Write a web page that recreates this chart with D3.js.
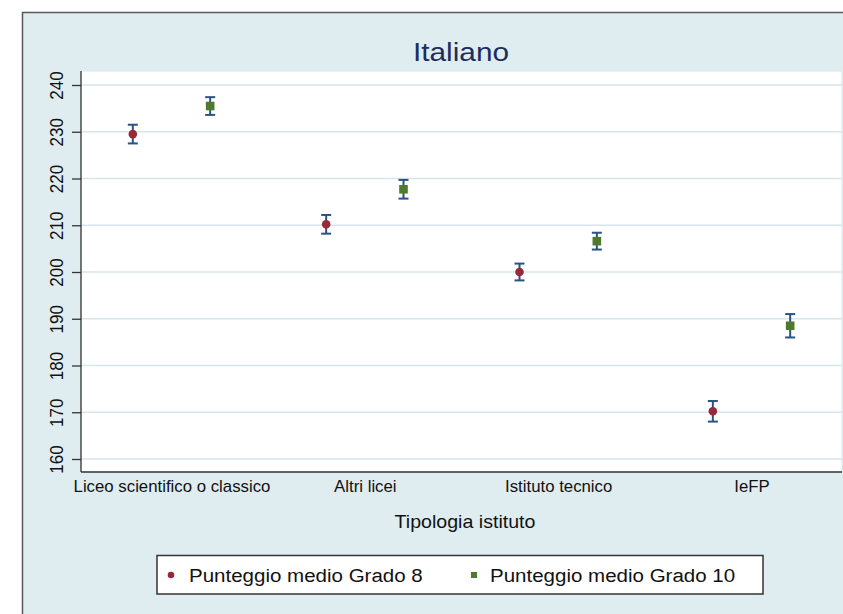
<!DOCTYPE html>
<html><head><meta charset="utf-8">
<script src="https://cdn.jsdelivr.net/npm/d3@7"></script>
<style>body{margin:0;background:#fff;} svg{display:block;font-family:"Liberation Sans",Arial,sans-serif;}</style>
</head><body>
<svg id="chart" width="843" height="614"></svg>
<script>
const categories = ["Liceo scientifico o classico","Altri licei","Istituto tecnico","IeFP"];
const grado8 = [229.5, 210.2, 200.0, 170.2];
const grado8Err = [2.0, 2.0, 1.8, 2.2];
const grado10 = [235.5, 217.7, 206.6, 188.5];
const grado10Err = [1.9, 2.0, 1.8, 2.5];
const yTicks = [160,170,180,190,200,210,220,230,240];
const seriesNames = ["Punteggio medio Grado 8","Punteggio medio Grado 10"];

const svg = d3.select("#chart");
const W = 843, H = 614;
const plot = {left:81, top:71, right:842, bottom:472};
const colRed = "#962a38", colGreen = "#4e7a2e", colErr = "#2a5384";

// outer background frame
svg.append("rect").attr("x",22.5).attr("y",12.5).attr("width",W+20).attr("height",H+20)
  .attr("fill","#e0edf0").attr("stroke","#5a5a5a").attr("stroke-width",1.5);

// plot area
svg.append("rect").attr("x",plot.left).attr("y",plot.top)
  .attr("width",plot.right-plot.left).attr("height",plot.bottom-plot.top)
  .attr("fill","#ffffff").attr("stroke","#d9e7ec").attr("stroke-width",1);

const x = d3.scalePoint().domain(categories).range([plot.left, plot.right]).padding(0.468);
const y = d3.scaleLinear().domain([160,240]).range([459, 85]);
const off = x.step()*0.2;

// grid
svg.append("g").selectAll("line").data(yTicks).join("line")
  .attr("x1",plot.left).attr("x2",plot.right)
  .attr("y1",d=>y(d)).attr("y2",d=>y(d))
  .attr("stroke","#d6e6ec").attr("stroke-width",1.5);

// y axis
const yAxis = svg.append("g").attr("transform",`translate(${plot.left},0)`)
  .call(d3.axisLeft(y).tickValues(yTicks).tickSize(9).tickSizeOuter(0));
yAxis.select(".domain").attr("d",`M0,${plot.top}V${plot.bottom}`).attr("stroke","#333").attr("stroke-width",1.3);
yAxis.selectAll(".tick line").attr("stroke","#333").attr("stroke-width",1.3);
yAxis.selectAll(".tick text").attr("font-size",17).attr("fill","#111")
  .attr("x",0).attr("y",0).attr("dy","0.35em").attr("text-anchor","middle")
  .attr("transform","translate(-25,0) scale(1.1,1) rotate(-90)");

// x axis
const xAxis = svg.append("g").attr("transform",`translate(0,${plot.bottom})`)
  .call(d3.axisBottom(x).tickSize(0).tickPadding(9));
xAxis.select(".domain").attr("d",`M${plot.left},0H${plot.right}`).attr("stroke","#333").attr("stroke-width",1.3);
xAxis.selectAll(".tick text").attr("font-size",16).attr("fill","#111")
  .attr("transform","scale(1.05,1)");

// title & axis title
svg.append("text").attr("transform","translate(461,61) scale(1.19,1)").attr("text-anchor","middle")
  .attr("font-size",25).attr("fill","#1c2d5e").text("Italiano");
svg.append("text").attr("transform","translate(465,528) scale(1.09,1)").attr("text-anchor","middle")
  .attr("font-size",18).attr("fill","#111").text("Tipologia istituto");

// error bars + markers
function drawSeries(vals, errs, dx, kind, color){
  const g = svg.append("g");
  const data = categories.map((c,i)=>({c, v:vals[i], e:errs[i]}));
  g.selectAll("line.v").data(data).join("line")
    .attr("x1",d=>x(d.c)+dx).attr("x2",d=>x(d.c)+dx)
    .attr("y1",d=>y(d.v+d.e)).attr("y2",d=>y(d.v-d.e))
    .attr("stroke",colErr).attr("stroke-width",2);
  [1,-1].forEach(s=>{
    g.selectAll(null).data(data).join("line")
      .attr("x1",d=>x(d.c)+dx-5).attr("x2",d=>x(d.c)+dx+5)
      .attr("y1",d=>y(d.v+s*d.e)).attr("y2",d=>y(d.v+s*d.e))
      .attr("stroke",colErr).attr("stroke-width",2);
  });
  if(kind==="circle"){
    g.selectAll("circle").data(data).join("circle")
      .attr("cx",d=>x(d.c)+dx).attr("cy",d=>y(d.v)).attr("r",4.3).attr("fill",color);
  } else {
    g.selectAll("rect").data(data).join("rect")
      .attr("x",d=>x(d.c)+dx-4.3).attr("y",d=>y(d.v)-4.3).attr("width",8.6).attr("height",8.6).attr("fill",color);
  }
}
drawSeries(grado8, grado8Err, -off, "circle", colRed);
drawSeries(grado10, grado10Err, off, "square", colGreen);

// legend
const lg = svg.append("g");
lg.append("rect").attr("x",157).attr("y",555.5).attr("width",606).attr("height",38.5)
  .attr("fill","#fff").attr("stroke","#333").attr("stroke-width",1.5);
lg.append("circle").attr("cx",171).attr("cy",575).attr("r",3.3).attr("fill",colRed);
lg.append("text").attr("transform","translate(189,582) scale(1.08,1)").attr("font-size",19).attr("fill","#111").text(seriesNames[0]);
lg.append("rect").attr("x",471).attr("y",572).attr("width",6).attr("height",6).attr("fill",colGreen);
lg.append("text").attr("transform","translate(490,582) scale(1.08,1)").attr("font-size",19).attr("fill","#111").text(seriesNames[1]);
</script>
</body></html>
